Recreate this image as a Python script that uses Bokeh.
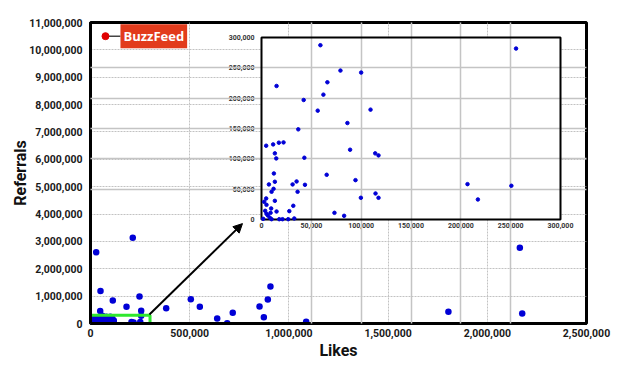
from bokeh.plotting import figure
from bokeh.models import (Range1d, LinearAxis, FixedTicker, NumeralTickFormatter, Grid,
                          Arrow, NormalHead, Label)
from bokeh.embed import file_html
from bokeh.resources import INLINE

# ---------------- data ----------------
likes = [28700, 213000, 50400, 112400, 181500, 247000, 255500, 48900, 381500, 505600,
         551000, 638600, 689000, 717000, 852000, 873700, 893800, 907000, 1087000,
         1804000, 2164000, 2176000,
         59100, 79200, 100000, 66100, 15100, 62100, 42300, 56400, 109400, 86200, 36900,
         4700, 11700, 17400, 22100, 13400, 14800, 43000, 88900, 114100, 117400, 12400,
         65400, 94300, 13400, 7400, 31200, 35200, 43600, 36200, 12100, 10100, 13400,
         4700, 2700, 5000, 31900, 27900, 15100, 3700, 5000, 6400, 9100, 9700, 99700,
         114400, 117400, 73200, 82900, 1700, 8400, 10100, 17800, 21100, 26800, 32900,
         255400, 206700, 217100, 250700]
referrals = [2600000, 3130000, 1190000, 840000, 610000, 985000, 470000, 460000, 560000, 890000,
             610000, 180000, 10000, 390000, 620000, 230000, 875000, 1350000, 60000,
             430000, 2770000, 365000,
             287300, 245500, 242200, 226200, 220100, 205800, 197000, 179400, 181100, 159000, 148600,
             121600, 123800, 126600, 127100, 109000, 100700, 101800, 115000, 109000, 105700, 75900,
             73700, 64900, 62200, 57800, 57800, 62700, 57200, 45700, 50600, 45700, 30800,
             34700, 29200, 24200, 22600, 13800, 13200, 14300, 9400, 6600, 11000, 18200, 35800,
             42900, 35800, 11000, 6100, 1100, 2800, 500, 500, 500, 500, 1700,
             281800, 58300, 33000, 55600]
buzzfeed_likes = 75600
buzzfeed_referrals = 10500000

main_x_ticks = [0, 500000, 1000000, 1500000, 2000000, 2500000]
main_y_ticks = list(range(0, 11000001, 1000000))
inset_ticks = [0, 50000, 100000, 150000, 200000, 250000, 300000]
inset_max = 300000

inset_likes = [a for a, b in zip(likes, referrals) if a <= inset_max and b <= inset_max]
inset_refs = [b for a, b in zip(likes, referrals) if a <= inset_max and b <= inset_max]

FONT = "Roboto"
BLUE = "#0000d6"

p = figure(frame_width=496, frame_height=301, output_backend="svg", toolbar_location=None,
           x_range=Range1d(0, 2500000), y_range=Range1d(0, 11000000),
           min_border_left=90, min_border_right=30, min_border_top=22, min_border_bottom=43,
           background_fill_color="white", border_fill_color="white")
p.outline_line_color = "black"
p.outline_line_width = 3

# inset ranges (mapped onto a sub-area of the frame)
p.extra_x_ranges = {"ix": Range1d(-171572, 326084)}
p.extra_y_ranges = {"iy": Range1d(-171428, 324725)}

for ax in (p.xaxis[0], p.yaxis[0]):
    ax.major_tick_line_color = None
    ax.minor_tick_line_color = None
    ax.axis_line_width = 3
    ax.axis_line_color = "black"
    ax.major_label_text_font = FONT
    ax.major_label_text_font_style = "bold"
    ax.major_label_text_font_size = "10.5px"
    ax.major_label_text_color = "#1a1a1a"
    ax.axis_label_text_font = FONT
    ax.axis_label_text_font_style = "bold"
    ax.axis_label_text_font_size = "16px"
    ax.axis_label_text_color = "#111111"
    ax.formatter = NumeralTickFormatter(format="0,0")
p.xaxis[0].ticker = FixedTicker(ticks=main_x_ticks)
p.yaxis[0].ticker = FixedTicker(ticks=main_y_ticks)
p.xaxis[0].axis_label = "Likes"
p.yaxis[0].axis_label = "Referrals"
p.xaxis[0].axis_label_standoff = 1
p.yaxis[0].axis_label_standoff = -4
p.xaxis[0].major_label_standoff = -1
p.yaxis[0].major_label_standoff = 2

p.xgrid.grid_line_color = "#c2c2c2"
p.ygrid.grid_line_color = "#c2c2c2"
p.xgrid.grid_line_dash = "2 1"
p.ygrid.grid_line_dash = "2 1"

# main scatter
p.scatter(likes, referrals, size=6.5, color=BLUE, line_color=None)

# zoom box
p.quad(left=[0], right=[inset_max], bottom=[0], top=[inset_max], fill_color=None,
       line_color="#2ee82e", line_width=3)

# arrow to inset
p.add_layout(Arrow(x_start=297000, y_start=330000, x_end=766000, y_end=3650000,
                   line_width=2, line_color="black",
                   end=NormalHead(size=9, fill_color="black", line_color="black")))

# BuzzFeed marker
p.segment(x0=[buzzfeed_likes], y0=[buzzfeed_referrals], x1=[151000], y1=[buzzfeed_referrals],
          line_color="#444444", line_width=1.5)
p.scatter([buzzfeed_likes], [buzzfeed_referrals], size=7, color="#e00000")
p.add_layout(Label(x=151000, y=buzzfeed_referrals, text="BuzzFeed", text_color="white",
                   text_font="Open Sans", text_font_style="bold", text_font_size="13px",
                   text_baseline="middle", text_align="left",
                   background_fill_color="#e23b1c", padding=3))

# ---------------- inset ----------------
p.quad(left=[0], right=[inset_max], bottom=[0], top=[inset_max], fill_color="white",
       line_color=None, x_range_name="ix", y_range_name="iy", level="annotation")
gx = Grid(dimension=0, ticker=FixedTicker(ticks=inset_ticks[1:-1]), x_range_name="ix",
          y_range_name="iy", bounds=(0, inset_max), grid_line_color="#c4c4c4", level="annotation")
gy = Grid(dimension=1, ticker=FixedTicker(ticks=inset_ticks[1:-1]), x_range_name="ix",
          y_range_name="iy", bounds=(0, inset_max), grid_line_color="#c4c4c4", level="annotation")
gx.grid_line_width = 1.5
gy.grid_line_width = 1.5
p.add_layout(gx)
p.add_layout(gy)
p.quad(left=[0], right=[inset_max], bottom=[0], top=[inset_max], fill_color=None,
       line_color="black", line_width=2, x_range_name="ix", y_range_name="iy", level="overlay")
p.scatter(inset_likes, inset_refs, size=3.5, color=BLUE, x_range_name="ix", y_range_name="iy",
          level="overlay")

for side in ("below", "left"):
    ax = LinearAxis(x_range_name="ix", y_range_name="iy", fixed_location=0,
                    bounds=(0, inset_max), ticker=FixedTicker(ticks=inset_ticks),
                    formatter=NumeralTickFormatter(format="0,0"))
    ax.axis_line_color = None
    ax.major_tick_line_color = None
    ax.minor_tick_line_color = None
    ax.major_label_text_font = FONT
    ax.major_label_text_font_style = "bold"
    ax.major_label_text_font_size = "7px"
    ax.major_label_text_color = "#333333"
    ax.major_label_standoff = -3 if side == "below" else 1
    p.add_layout(ax, side)

open("out.html", "w").write(file_html(p, INLINE))
